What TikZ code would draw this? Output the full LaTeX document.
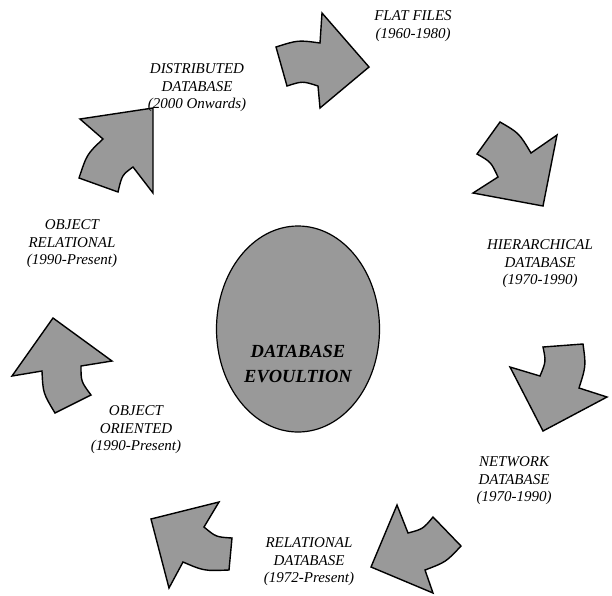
\documentclass[tikz,border=0pt]{standalone}
\usepackage{fontspec}
\setmainfont{Liberation Serif}
\usetikzlibrary{shapes.geometric}
\definecolor{shapegray}{RGB}{153,153,153}
\begin{document}
\begin{tikzpicture}[x=1pt,y=-1pt,
  blockarrow/.style={fill=shapegray,draw=black,line width=1.4pt,line join=miter},
  lbl/.style={font=\fontsize{15}{17.5}\selectfont\itshape,align=center,inner sep=0pt},
  hub/.style={ellipse,fill=shapegray,draw=black,line width=1.2pt,minimum width=163pt,minimum height=206pt,inner sep=0pt},
  hubtext/.style={font=\fontsize{18.5}{25}\selectfont\bfseries\itshape,align=center,inner sep=0pt}]
\useasboundingbox (0,0) rectangle (612,595);

% centre
\node[hub] (hub) at (298,329) {};
\node[hubtext] (hubtxt) at (298,364) {DATABASE\\EVOULTION};

% arrow 1 (top, pointing right)
\draw[blockarrow] (276,47) .. controls (298,40) .. (320,43) -- (322,13) -- (369,67) -- (320,108) -- (318,86) .. controls (302.5,81) .. (287,86) -- cycle;
% arrow 2 (down-right)
\draw[blockarrow] (500,122) .. controls (519,133) .. (531,153) -- (557,135) -- (543,206) -- (473,193) -- (498,177) .. controls (491,162) .. (477,154) -- cycle;
% arrow 3 (down)
\draw[blockarrow] (543,347) -- (583,344) .. controls (586,366) .. (579,388) -- (607,397) -- (543,431) -- (510,367) -- (540,376) .. controls (546,361.5) .. cycle;
% arrow 4 (down-left)
\draw[blockarrow] (397,505) -- (408,533) .. controls (423,529) .. (433,517) -- (461,546) .. controls (446,562) .. (425,570) -- (433,593) -- (371,567) -- cycle;
% arrow 5 (up-left)
\draw[blockarrow] (219,502) -- (204,527) .. controls (216,537) .. (232,538) -- (229,570) .. controls (204,571) .. (183,562) -- (169,588) -- (151,519) -- cycle;
% arrow 6 (up)
\draw[blockarrow] (53,318) -- (112,361) -- (81,366) .. controls (81,381.5) .. (91,395) -- (55,413) .. controls (43,393) .. (42,371) -- (12,376) -- cycle;
% arrow 7 (up-right)
\draw[blockarrow] (80,119) -- (153,108) -- (153,193) -- (133,167) .. controls (122,175) .. (118,192) -- (79,178) .. controls (87,154) .. (103,139) -- cycle;

% labels
\node[lbl] (flat) at (413,26) {FLAT FILES\\(1960-1980)};
\node[lbl] (hier) at (540,264) {HIERARCHICAL\\DATABASE\\(1970-1990)};
\node[lbl] (net) at (514,481) {NETWORK\\DATABASE\\(1970-1990)};
\node[lbl] (rel) at (309,562) {RELATIONAL\\DATABASE\\(1972-Present)};
\node[lbl] (oo) at (136,430) {OBJECT\\ORIENTED\\(1990-Present)};
\node[lbl] (orel) at (72,244) {OBJECT\\RELATIONAL\\(1990-Present)};
\node[lbl] (dist) at (197,88) {DISTRIBUTED\\DATABASE\\(2000 Onwards)};
\end{tikzpicture}
\end{document}
